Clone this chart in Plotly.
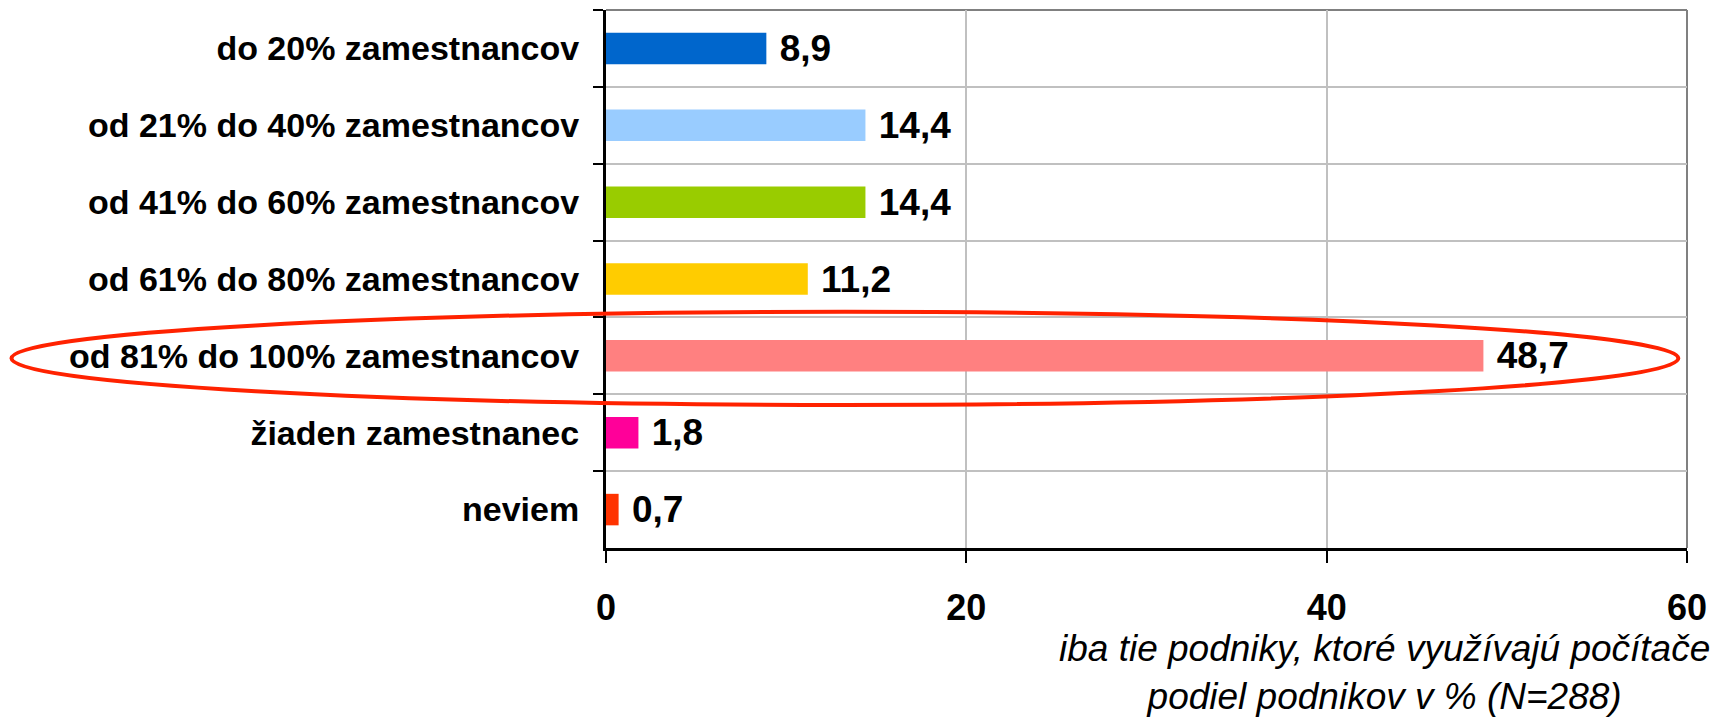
import plotly.graph_objects as go

categories = [
    "do 20% zamestnancov",
    "od 21% do 40% zamestnancov",
    "od 41% do 60% zamestnancov",
    "od 61% do 80% zamestnancov",
    "od 81% do 100% zamestnancov",
    "žiaden zamestnanec",
    "neviem",
]
values = [8.9, 14.4, 14.4, 11.2, 48.7, 1.8, 0.7]
colors = ["#0066CC", "#99CCFF", "#99CC00", "#FFCC00", "#FF8080", "#FF0099", "#FF3300"]
x_ticks = [0, 20, 40, 60]
axis_title = "iba tie podniky, ktoré využívajú počítače<br>podiel podnikov v % (N=288)"

FONT = "Liberation Sans, Arial, sans-serif"

fig = go.Figure(go.Bar(
    x=values, y=categories, orientation="h",
    marker=dict(color=colors, line=dict(width=0)),
    texttemplate=" %{x:.1f}", textposition="outside", constraintext="none",
    textfont=dict(family=FONT, size=37, color="black", weight="bold"),
    cliponaxis=False,
))

# page body has an 8px margin: compensate so the plot lands where the reference has it
fig.update_layout(
    width=1721, height=720,
    margin=dict(l=598, r=42, t=2, b=180, autoexpand=False),
    plot_bgcolor="white", paper_bgcolor="white",
    separators=", ",
    bargap=0.59,
    showlegend=False,
)
fig.update_xaxes(
    range=[0, 60], tickvals=x_ticks, showgrid=True, gridcolor="#C0C0C0", gridwidth=2,
    showline=True, linecolor="black", linewidth=3, automargin=False,
    ticks="outside", ticklen=12, tickwidth=2, tickcolor="black",
    ticklabelstandoff=14,
    tickfont=dict(family=FONT, size=36, color="black", weight="bold"),
    zeroline=False,
)
fig.update_yaxes(
    autorange="reversed", tickson="boundaries", showgrid=True, gridcolor="#C0C0C0", gridwidth=2,
    showline=True, linecolor="black", linewidth=3, automargin=False,
    ticks="outside", ticklen=10, tickwidth=2, tickcolor="black",
    ticklabelstandoff=17,
    tickfont=dict(family=FONT, size=34, color="black", weight="bold"),
)
# plot border (top/right)
fig.add_shape(type="line", xref="x domain", yref="y domain", x0=0, x1=1, y0=1, y1=1,
              line=dict(color="#808080", width=2), layer="below")
fig.add_shape(type="line", xref="x domain", yref="y domain", x0=1, x1=1, y0=0, y1=1,
              line=dict(color="#808080", width=2), layer="below")
# highlight ellipse
fig.add_shape(type="circle", xref="x domain", yref="y domain",
              x0=-0.550, x1=0.992, y0=0.266, y1=0.439,
              line=dict(color="#FF2200", width=4))
fig.add_annotation(
    text=axis_title, xref="x domain", yref="y domain", x=0.72, y=-0.145,
    xanchor="center", yanchor="top", showarrow=False, align="center",
    font=dict(family=FONT, size=37, color="black", style="italic"),
)

fig.write_html("out.html")
